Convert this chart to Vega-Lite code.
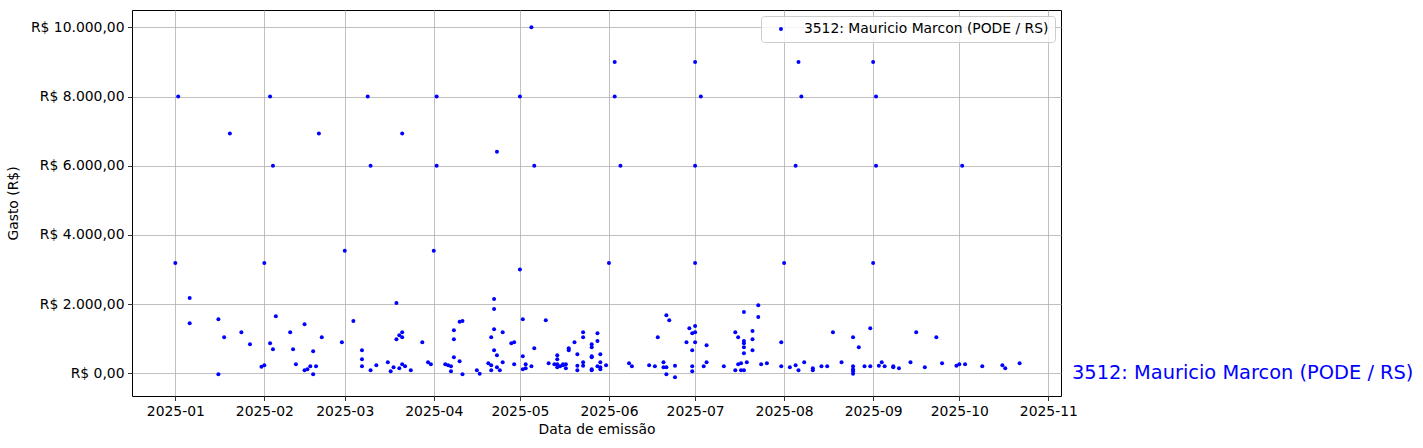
{
  "$schema": "https://vega.github.io/schema/vega-lite/v6.json",
  "autosize": {"type": "none"},
  "padding": {"left": 132, "top": 10, "right": 362, "bottom": 52},
  "width": 929,
  "height": 386,
  "background": "white",
  "config": {
    "locale": {"number": {"decimal": ",", "thousands": ".", "grouping": [3], "currency": ["R$ ", ""]}},
    "view": {"stroke": "black", "strokeWidth": 1},
    "font": "DejaVu Sans",
    "axis": {
      "labelFont": "DejaVu Sans", "titleFont": "DejaVu Sans",
      "labelFontSize": 13.9, "titleFontSize": 13.9, "titleFontWeight": "normal",
      "labelColor": "black", "titleColor": "black",
      "tickColor": "black", "tickSize": 4.5, "tickWidth": 0.8,
      "domain": false, "grid": true, "gridColor": "#b0b0b0", "gridWidth": 0.8, "gridOpacity": 1,
      "labelPadding": 3.5, "zindex": 1
    }
  },
  "data": {"values": [
    {"data":"2025-01-01","gasto":3190},{"data":"2025-01-02","gasto":8000},{"data":"2025-01-06","gasto":2175},{"data":"2025-01-06","gasto":1450},
    {"data":"2025-01-16","gasto":1565},{"data":"2025-01-16","gasto":-30},{"data":"2025-01-18","gasto":1045},{"data":"2025-01-20","gasto":6930},
    {"data":"2025-01-24","gasto":1190},{"data":"2025-01-27","gasto":840},{"data":"2025-01-31","gasto":190},
    {"data":"2025-02-01","gasto":3190},{"data":"2025-02-01","gasto":230},{"data":"2025-02-03","gasto":8000},{"data":"2025-02-03","gasto":870},
    {"data":"2025-02-04","gasto":6000},{"data":"2025-02-04","gasto":695},{"data":"2025-02-05","gasto":1650},{"data":"2025-02-10","gasto":1190},
    {"data":"2025-02-11","gasto":695},{"data":"2025-02-12","gasto":260},{"data":"2025-02-15","gasto":1420},{"data":"2025-02-15","gasto":85},
    {"data":"2025-02-16","gasto":115},{"data":"2025-02-17","gasto":205},{"data":"2025-02-18","gasto":640},{"data":"2025-02-18","gasto":-30},
    {"data":"2025-02-19","gasto":205},{"data":"2025-02-20","gasto":6930},{"data":"2025-02-21","gasto":1045},{"data":"2025-02-28","gasto":900},
    {"data":"2025-03-01","gasto":3540},{"data":"2025-03-04","gasto":1510},{"data":"2025-03-07","gasto":665},{"data":"2025-03-07","gasto":405},
    {"data":"2025-03-07","gasto":205},{"data":"2025-03-09","gasto":8000},{"data":"2025-03-10","gasto":6000},{"data":"2025-03-10","gasto":85},
    {"data":"2025-03-12","gasto":230},{"data":"2025-03-16","gasto":320},{"data":"2025-03-17","gasto":60},{"data":"2025-03-18","gasto":175},
    {"data":"2025-03-19","gasto":2030},{"data":"2025-03-19","gasto":985},{"data":"2025-03-20","gasto":1100},{"data":"2025-03-20","gasto":145},
    {"data":"2025-03-21","gasto":260},{"data":"2025-03-21","gasto":1190},{"data":"2025-03-21","gasto":1045},{"data":"2025-03-21","gasto":6930},
    {"data":"2025-03-22","gasto":205},{"data":"2025-03-24","gasto":85},{"data":"2025-03-28","gasto":900},{"data":"2025-03-30","gasto":320},
    {"data":"2025-03-31","gasto":260},
    {"data":"2025-04-01","gasto":3540},{"data":"2025-04-02","gasto":8000},{"data":"2025-04-02","gasto":6000},{"data":"2025-04-05","gasto":260},
    {"data":"2025-04-06","gasto":230},{"data":"2025-04-07","gasto":205},{"data":"2025-04-07","gasto":60},{"data":"2025-04-08","gasto":465},
    {"data":"2025-04-08","gasto":985},{"data":"2025-04-08","gasto":1245},{"data":"2025-04-10","gasto":350},{"data":"2025-04-10","gasto":1490},
    {"data":"2025-04-11","gasto":1510},{"data":"2025-04-11","gasto":-30},{"data":"2025-04-16","gasto":85},{"data":"2025-04-17","gasto":-15},
    {"data":"2025-04-20","gasto":290},{"data":"2025-04-21","gasto":85},{"data":"2025-04-21","gasto":230},{"data":"2025-04-21","gasto":1045},
    {"data":"2025-04-22","gasto":2145},{"data":"2025-04-22","gasto":1855},{"data":"2025-04-22","gasto":1275},{"data":"2025-04-22","gasto":665},
    {"data":"2025-04-23","gasto":520},{"data":"2025-04-23","gasto":6400},{"data":"2025-04-23","gasto":175},{"data":"2025-04-24","gasto":85},
    {"data":"2025-04-25","gasto":1190},{"data":"2025-04-25","gasto":320},{"data":"2025-04-28","gasto":870},{"data":"2025-04-29","gasto":260},
    {"data":"2025-04-29","gasto":900},
    {"data":"2025-05-01","gasto":8000},{"data":"2025-05-01","gasto":3000},{"data":"2025-05-02","gasto":1565},{"data":"2025-05-02","gasto":495},
    {"data":"2025-05-02","gasto":115},{"data":"2025-05-03","gasto":145},{"data":"2025-05-03","gasto":260},{"data":"2025-05-05","gasto":10000},
    {"data":"2025-05-05","gasto":205},{"data":"2025-05-06","gasto":6000},{"data":"2025-05-06","gasto":725},{"data":"2025-05-10","gasto":1535},
    {"data":"2025-05-11","gasto":290},{"data":"2025-05-13","gasto":260},{"data":"2025-05-14","gasto":520},{"data":"2025-05-14","gasto":405},
    {"data":"2025-05-14","gasto":260},{"data":"2025-05-14","gasto":175},{"data":"2025-05-15","gasto":205},{"data":"2025-05-16","gasto":230},
    {"data":"2025-05-16","gasto":260},{"data":"2025-05-17","gasto":145},{"data":"2025-05-17","gasto":260},{"data":"2025-05-18","gasto":725},
    {"data":"2025-05-18","gasto":665},{"data":"2025-05-20","gasto":900},{"data":"2025-05-21","gasto":550},{"data":"2025-05-21","gasto":85},
    {"data":"2025-05-21","gasto":220},{"data":"2025-05-23","gasto":1190},{"data":"2025-05-23","gasto":1045},{"data":"2025-05-23","gasto":320},
    {"data":"2025-05-23","gasto":220},{"data":"2025-05-26","gasto":840},{"data":"2025-05-26","gasto":755},{"data":"2025-05-26","gasto":495},
    {"data":"2025-05-26","gasto":465},{"data":"2025-05-26","gasto":85},{"data":"2025-05-26","gasto":115},{"data":"2025-05-28","gasto":930},
    {"data":"2025-05-28","gasto":1160},{"data":"2025-05-28","gasto":205},{"data":"2025-05-29","gasto":550},{"data":"2025-05-29","gasto":320},
    {"data":"2025-05-29","gasto":175},{"data":"2025-05-29","gasto":115},{"data":"2025-05-31","gasto":230},
    {"data":"2025-06-01","gasto":3190},{"data":"2025-06-03","gasto":9000},{"data":"2025-06-03","gasto":8000},{"data":"2025-06-05","gasto":6000},
    {"data":"2025-06-08","gasto":290},{"data":"2025-06-09","gasto":205},{"data":"2025-06-15","gasto":230},{"data":"2025-06-17","gasto":205},
    {"data":"2025-06-18","gasto":1045},{"data":"2025-06-20","gasto":320},{"data":"2025-06-20","gasto":175},{"data":"2025-06-21","gasto":1680},
    {"data":"2025-06-21","gasto":175},{"data":"2025-06-21","gasto":-30},{"data":"2025-06-22","gasto":1535},{"data":"2025-06-24","gasto":220},
    {"data":"2025-06-24","gasto":-115},{"data":"2025-06-28","gasto":900},{"data":"2025-06-29","gasto":1305},{"data":"2025-06-30","gasto":1160},
    {"data":"2025-06-30","gasto":665},{"data":"2025-06-30","gasto":205},{"data":"2025-06-30","gasto":60},
    {"data":"2025-07-01","gasto":9000},{"data":"2025-07-01","gasto":6000},{"data":"2025-07-01","gasto":3190},{"data":"2025-07-01","gasto":1365},
    {"data":"2025-07-01","gasto":1190},{"data":"2025-07-01","gasto":900},{"data":"2025-07-03","gasto":8000},{"data":"2025-07-04","gasto":205},
    {"data":"2025-07-05","gasto":810},{"data":"2025-07-05","gasto":320},{"data":"2025-07-11","gasto":205},{"data":"2025-07-15","gasto":1190},
    {"data":"2025-07-15","gasto":85},{"data":"2025-07-16","gasto":1045},{"data":"2025-07-16","gasto":260},{"data":"2025-07-17","gasto":290},
    {"data":"2025-07-17","gasto":85},{"data":"2025-07-18","gasto":85},{"data":"2025-07-18","gasto":870},{"data":"2025-07-18","gasto":580},
    {"data":"2025-07-18","gasto":1770},{"data":"2025-07-18","gasto":930},{"data":"2025-07-18","gasto":755},{"data":"2025-07-19","gasto":320},
    {"data":"2025-07-21","gasto":1220},{"data":"2025-07-21","gasto":665},{"data":"2025-07-21","gasto":985},{"data":"2025-07-23","gasto":1970},
    {"data":"2025-07-23","gasto":1625},{"data":"2025-07-24","gasto":260},{"data":"2025-07-26","gasto":290},{"data":"2025-07-31","gasto":900},
    {"data":"2025-07-31","gasto":205},
    {"data":"2025-08-01","gasto":3190},{"data":"2025-08-03","gasto":175},{"data":"2025-08-05","gasto":6000},{"data":"2025-08-05","gasto":230},
    {"data":"2025-08-06","gasto":9000},{"data":"2025-08-06","gasto":85},{"data":"2025-08-07","gasto":8000},{"data":"2025-08-08","gasto":320},
    {"data":"2025-08-11","gasto":145},{"data":"2025-08-11","gasto":85},{"data":"2025-08-14","gasto":205},{"data":"2025-08-16","gasto":205},
    {"data":"2025-08-18","gasto":1190},{"data":"2025-08-21","gasto":320},{"data":"2025-08-25","gasto":205},{"data":"2025-08-25","gasto":1045},
    {"data":"2025-08-25","gasto":115},{"data":"2025-08-25","gasto":60},{"data":"2025-08-25","gasto":-10},{"data":"2025-08-27","gasto":755},
    {"data":"2025-08-29","gasto":205},{"data":"2025-08-31","gasto":205},{"data":"2025-08-31","gasto":1305},
    {"data":"2025-09-01","gasto":9000},{"data":"2025-09-01","gasto":3190},{"data":"2025-09-02","gasto":8000},{"data":"2025-09-02","gasto":6000},
    {"data":"2025-09-03","gasto":220},{"data":"2025-09-04","gasto":320},{"data":"2025-09-05","gasto":205},{"data":"2025-09-08","gasto":205},
    {"data":"2025-09-08","gasto":175},{"data":"2025-09-10","gasto":145},{"data":"2025-09-14","gasto":320},{"data":"2025-09-16","gasto":1190},
    {"data":"2025-09-19","gasto":175},{"data":"2025-09-23","gasto":1045},{"data":"2025-09-25","gasto":290},{"data":"2025-09-30","gasto":220},
    {"data":"2025-10-01","gasto":260},{"data":"2025-10-02","gasto":6000},{"data":"2025-10-03","gasto":260},{"data":"2025-10-09","gasto":205},
    {"data":"2025-10-16","gasto":230},{"data":"2025-10-17","gasto":145},{"data":"2025-10-22","gasto":290}
  ]},
  "layer": [
    {
      "mark": {"type": "point", "filled": true, "shape": "circle", "size": 16, "opacity": 1, "strokeWidth": 0},
      "encoding": {
        "x": {
          "field": "data", "type": "temporal",
          "scale": {"type": "utc", "domain": [
            {"year": 2024, "month": 12, "date": 16, "hours": 22, "utc": true},
            {"year": 2025, "month": 11, "date": 5, "hours": 10, "utc": true}
          ]},
          "axis": {
            "title": "Data de emissão", "format": "%Y-%m", "titlePadding": 5,
            "labelFlush": false, "labelOverlap": false,
            "values": [
              {"year": 2025, "month": 1, "date": 1, "utc": true},
              {"year": 2025, "month": 2, "date": 1, "utc": true},
              {"year": 2025, "month": 3, "date": 1, "utc": true},
              {"year": 2025, "month": 4, "date": 1, "utc": true},
              {"year": 2025, "month": 5, "date": 1, "utc": true},
              {"year": 2025, "month": 6, "date": 1, "utc": true},
              {"year": 2025, "month": 7, "date": 1, "utc": true},
              {"year": 2025, "month": 8, "date": 1, "utc": true},
              {"year": 2025, "month": 9, "date": 1, "utc": true},
              {"year": 2025, "month": 10, "date": 1, "utc": true},
              {"year": 2025, "month": 11, "date": 1, "utc": true}
            ]
          }
        },
        "y": {
          "field": "gasto", "type": "quantitative",
          "scale": {"domain": [-656, 10500], "nice": false, "zero": false},
          "axis": {"title": "Gasto (R$)", "format": "$,.2f", "values": [0, 2000, 4000, 6000, 8000, 10000], "titlePadding": 10, "labelOverlap": false}
        },
        "color": {
          "datum": "3512: Mauricio Marcon (PODE / RS)", "type": "nominal",
          "scale": {"range": ["#0000ff"]},
          "legend": {
            "orient": "top-right", "offset": 6, "title": null,
            "labelFont": "DejaVu Sans", "labelFontSize": 13.9, "labelColor": "black", "labelLimit": 500,
            "symbolType": "circle", "symbolSize": 16, "symbolStrokeWidth": 0,
            "fillColor": "rgba(255,255,255,0.8)", "strokeColor": "#cccccc", "cornerRadius": 3,
            "padding": 6, "symbolOffset": 7, "labelOffset": 16, "zindex": 2
          }
        }
      }
    },
    {
      "data": {"values": [{"rotulo": "3512: Mauricio Marcon (PODE / RS)", "gasto": 0}]},
      "mark": {"type": "text", "align": "left", "baseline": "middle", "dx": 11, "fontSize": 19.4, "font": "DejaVu Sans", "color": "#0000ff"},
      "encoding": {
        "x": {"value": "width"},
        "y": {"field": "gasto", "type": "quantitative", "title": "Gasto (R$)"},
        "text": {"field": "rotulo"}
      }
    }
  ]
}
